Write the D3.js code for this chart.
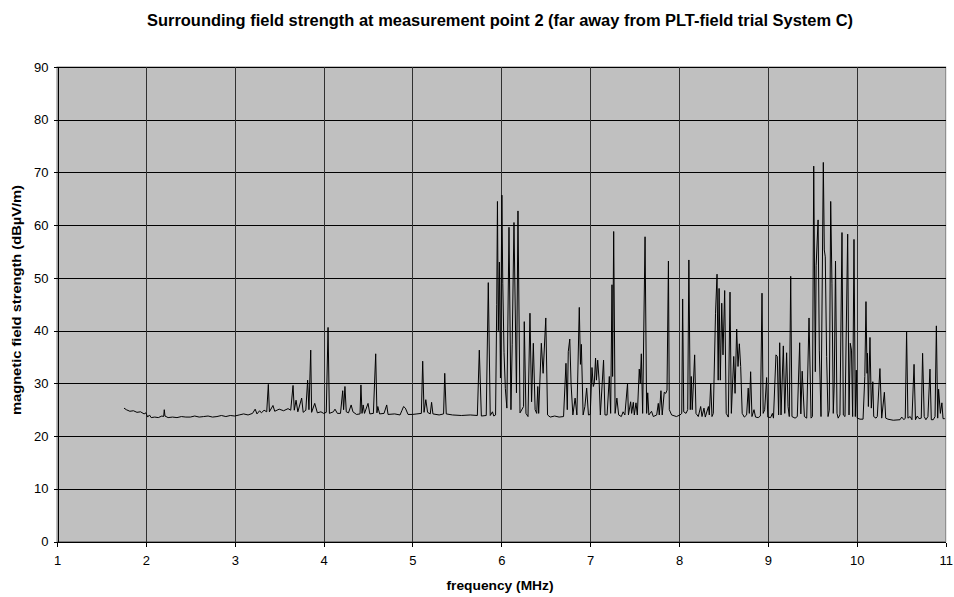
<!DOCTYPE html>
<html>
<head>
<meta charset="utf-8">
<script src="https://cdn.jsdelivr.net/npm/d3@7"></script>
<style>
  html, body { margin: 0; padding: 0; background: #fff; }
  svg { display: block; font-family: "Liberation Sans", Arial, sans-serif; }
</style>
</head>
<body>
<svg id="chart" width="954" height="597"></svg>
<script>
// Measured spectrum: frequency (MHz) and magnetic field strength (dBµV/m)
const freqMHz = [
  1.754, 1.78, 1.82, 1.86, 1.9, 1.94, 1.98, 2.0, 2.02, 2.04, 2.06, 2.1, 2.14, 2.18, 2.2, 2.207, 2.215, 2.25, 2.3, 2.35,
  2.4, 2.45, 2.5, 2.55, 2.6, 2.65, 2.7, 2.75, 2.8, 2.85, 2.9, 2.95, 3.0, 3.05, 3.1, 3.15, 3.2, 3.23, 3.25, 3.28,
  3.3, 3.33, 3.36, 3.378, 3.39, 3.43, 3.45, 3.5, 3.55, 3.6, 3.63, 3.656, 3.67, 3.69, 3.71, 3.753, 3.77, 3.8, 3.82, 3.835,
  3.855, 3.865, 3.9, 3.93, 3.97, 4.0, 4.03, 4.05, 4.065, 4.11, 4.128, 4.155, 4.19, 4.215, 4.225, 4.24, 4.255, 4.28, 4.31, 4.33,
  4.37, 4.41, 4.42, 4.432, 4.445, 4.46, 4.5, 4.52, 4.56, 4.586, 4.6, 4.61, 4.63, 4.68, 4.71, 4.725, 4.8, 4.86, 4.88, 4.9,
  4.92, 4.95, 5.0, 5.05, 5.1, 5.115, 5.13, 5.15, 5.17, 5.2, 5.215, 5.23, 5.3, 5.35, 5.363, 5.38, 5.45, 5.55, 5.65, 5.73,
  5.752, 5.775, 5.83, 5.853, 5.875, 5.9, 5.915, 5.935, 5.948, 5.956, 5.966, 5.978, 5.99, 6.006, 6.016, 6.03, 6.045, 6.062, 6.086, 6.108,
  6.122, 6.142, 6.17, 6.187, 6.21, 6.25, 6.258, 6.277, 6.3, 6.322, 6.34, 6.36, 6.38, 6.398, 6.41, 6.42, 6.45, 6.47, 6.5, 6.52,
  6.55, 6.6, 6.65, 6.7, 6.727, 6.742, 6.753, 6.77, 6.785, 6.805, 6.83, 6.85, 6.877, 6.89, 6.9, 6.92, 6.94, 6.96, 6.98, 7.0,
  7.02, 7.035, 7.046, 7.06, 7.07, 7.084, 7.1, 7.114, 7.15, 7.166, 7.19, 7.215, 7.23, 7.245, 7.252, 7.264, 7.28, 7.3, 7.32, 7.35,
  7.37, 7.39, 7.42, 7.43, 7.455, 7.466, 7.485, 7.496, 7.515, 7.53, 7.552, 7.563, 7.575, 7.59, 7.617, 7.635, 7.647, 7.66, 7.69, 7.71,
  7.748, 7.766, 7.777, 7.796, 7.81, 7.833, 7.85, 7.864, 7.88, 7.89, 7.916, 7.97, 8.01, 8.03, 8.04, 8.052, 8.078, 8.097, 8.11, 8.126,
  8.137, 8.148, 8.175, 8.19, 8.216, 8.243, 8.258, 8.28, 8.295, 8.33, 8.34, 8.356, 8.37, 8.385, 8.41, 8.427, 8.44, 8.45, 8.464, 8.48,
  8.494, 8.513, 8.53, 8.554, 8.573, 8.588, 8.615, 8.63, 8.648, 8.663, 8.678, 8.693, 8.71, 8.734, 8.76, 8.778, 8.79, 8.805, 8.82, 8.843,
  8.86, 8.89, 8.915, 8.933, 8.946, 8.963, 8.985, 8.998, 9.03, 9.05, 9.062, 9.09, 9.105, 9.12, 9.132, 9.147, 9.173, 9.189, 9.21, 9.226,
  9.24, 9.256, 9.27, 9.305, 9.33, 9.357, 9.37, 9.385, 9.41, 9.436, 9.462, 9.485, 9.5, 9.515, 9.533, 9.542, 9.564, 9.578, 9.597, 9.623,
  9.634, 9.645, 9.66, 9.676, 9.69, 9.706, 9.72, 9.735, 9.746, 9.76, 9.777, 9.79, 9.81, 9.833, 9.848, 9.867, 9.897, 9.912, 9.926, 9.94,
  9.953, 9.968, 9.983, 9.994, 10.005, 10.036, 10.07, 10.09, 10.103, 10.115, 10.12, 10.13, 10.148, 10.163, 10.18, 10.19, 10.216, 10.23, 10.26, 10.28,
  10.31, 10.325, 10.35, 10.41, 10.486, 10.505, 10.53, 10.545, 10.56, 10.575, 10.6, 10.62, 10.644, 10.66, 10.68, 10.7, 10.725, 10.74, 10.758, 10.777,
  10.8, 10.823, 10.838, 10.86, 10.88, 10.895, 10.91, 10.92, 10.94, 10.957, 10.97, 10.99
];
const fieldDb = [
  25.3, 25.0, 24.7, 24.8, 24.5, 24.6, 24.2, 24.4, 23.6, 24.0, 23.5, 23.6, 23.5, 23.8, 23.7, 25.0, 23.8, 23.5, 23.6, 23.5,
  23.7, 23.6, 23.6, 23.8, 23.6, 23.7, 23.8, 23.6, 23.7, 23.9, 23.7, 23.9, 23.8, 24.0, 24.2, 24.0, 24.3, 25.1, 24.2, 24.8,
  24.4, 24.9, 24.6, 29.8, 24.6, 25.8, 24.7, 25.1, 24.8, 25.2, 24.9, 29.6, 24.9, 26.8, 24.6, 27.2, 24.5, 24.9, 30.6, 25.0,
  36.3, 24.5, 26.2, 24.4, 24.6, 24.3, 24.5, 40.6, 24.3, 24.6, 25.1, 24.3, 24.3, 28.6, 25.0, 29.4, 24.6, 24.4, 25.9, 24.6,
  24.1, 24.2, 29.7, 24.3, 25.9, 24.3, 26.2, 24.2, 24.3, 35.6, 24.4, 25.6, 24.2, 24.3, 25.9, 24.1, 24.2, 24.0, 24.8, 25.6,
  25.3, 24.1, 24.1, 24.2, 24.3, 34.2, 24.5, 26.9, 24.5, 24.2, 26.4, 24.2, 24.0, 24.2, 31.9, 24.2, 24.0, 23.9, 24.0, 23.9,
  36.3, 23.8, 23.9, 49.1, 23.9, 24.6, 23.8, 24.0, 45.0, 64.5, 40.0, 53.0, 31.0, 65.7, 49.0, 35.8, 29.0, 25.3, 59.6, 25.0,
  37.3, 60.5, 28.2, 62.7, 24.4, 25.6, 41.7, 24.3, 23.7, 43.3, 26.5, 37.6, 25.0, 24.3, 29.4, 24.3, 37.6, 31.9, 42.4, 24.0,
  23.6, 23.8, 23.6, 23.7, 33.8, 25.0, 36.0, 38.4, 29.7, 24.0, 27.2, 24.0, 44.4, 33.6, 37.4, 24.0, 25.6, 29.1, 24.0, 24.1,
  33.0, 29.4, 30.0, 34.8, 30.6, 34.4, 30.6, 24.0, 34.4, 24.0, 24.0, 31.3, 24.3, 48.7, 31.3, 58.8, 24.3, 27.2, 24.0, 23.7,
  24.6, 24.0, 30.0, 24.0, 26.5, 24.3, 26.4, 24.0, 26.3, 24.0, 32.7, 30.0, 35.6, 24.3, 57.8, 24.3, 28.2, 24.0, 24.7, 23.7,
  24.0, 26.2, 24.0, 28.6, 24.0, 28.3, 28.1, 28.7, 53.2, 25.0, 24.0, 23.7, 24.0, 24.3, 46.0, 24.6, 24.3, 25.0, 53.4, 25.0,
  31.3, 25.0, 35.4, 24.3, 23.7, 25.6, 23.7, 25.3, 23.6, 25.6, 24.0, 29.9, 23.7, 24.3, 43.3, 50.7, 30.6, 48.0, 30.6, 45.2,
  35.4, 47.6, 24.3, 23.6, 47.3, 24.3, 35.1, 28.1, 40.3, 33.2, 37.5, 33.2, 24.3, 23.6, 24.0, 29.1, 24.3, 32.2, 23.7, 25.0,
  23.6, 23.5, 23.8, 47.1, 24.3, 25.0, 31.1, 23.6, 23.5, 24.3, 23.4, 35.4, 35.1, 24.0, 37.7, 24.0, 37.1, 24.3, 35.8, 25.6,
  23.7, 50.3, 23.7, 23.4, 23.7, 37.7, 24.2, 32.3, 23.7, 23.4, 42.4, 23.4, 23.7, 71.2, 32.2, 52.3, 61.0, 36.3, 23.7, 71.9,
  55.3, 54.0, 35.1, 23.7, 24.9, 64.5, 49.0, 24.3, 30.0, 53.2, 24.3, 23.4, 24.0, 58.6, 24.0, 23.7, 58.3, 24.0, 37.6, 36.3,
  23.7, 57.3, 23.7, 32.5, 23.4, 23.2, 23.2, 31.3, 45.5, 31.9, 35.7, 25.6, 38.7, 25.3, 30.3, 23.7, 23.4, 23.7, 32.8, 23.4,
  28.3, 23.4, 23.2, 23.0, 23.1, 23.6, 23.1, 23.4, 39.8, 23.4, 23.7, 23.1, 33.6, 23.1, 23.8, 23.3, 23.4, 35.7, 23.7, 23.1,
  23.7, 32.7, 23.1, 23.1, 23.7, 40.9, 23.4, 28.9, 24.3, 26.3, 23.3, 23.3
];

// Axis ticks
const freqTicks = [1, 2, 3, 4, 5, 6, 7, 8, 9, 10, 11];
const levelTicks = [0, 10, 20, 30, 40, 50, 60, 70, 80, 90];

const chartTitle = "Surrounding field strength at measurement point 2 (far away from PLT-field trial System C)";
const xTitle = "frequency (MHz)";
const yTitle = "magnetic field strength  (dBµV/m)";

const svg = d3.select("#chart");
const plot = { left: 57, right: 945.7, top: 67, bottom: 541.5 };

const x = d3.scaleLinear().domain([1, 11]).range([plot.left, plot.right]);
const y = d3.scaleLinear().domain([0, 90]).range([plot.bottom, plot.top]);

// Plot area
svg.append("rect")
  .attr("x", plot.left).attr("y", plot.top)
  .attr("width", plot.right - plot.left).attr("height", plot.bottom - plot.top)
  .attr("fill", "#c0c0c0")
  .attr("stroke", "#808080").attr("stroke-width", 1);

// Gridlines
const grid = svg.append("g").attr("shape-rendering", "crispEdges");
grid.selectAll("line.h").data(levelTicks.filter(d => d > 0)).join("line")
  .attr("class", "h")
  .attr("x1", plot.left).attr("x2", plot.right)
  .attr("y1", d => Math.round(y(d)) + 0.5).attr("y2", d => Math.round(y(d)) + 0.5)
  .attr("stroke", "#000");
grid.selectAll("line.v").data(freqTicks.filter(d => d > 1 && d < 11)).join("line")
  .attr("class", "v")
  .attr("y1", plot.top).attr("y2", plot.bottom)
  .attr("x1", d => Math.round(x(d)) + 0.5).attr("x2", d => Math.round(x(d)) + 0.5)
  .attr("stroke", "#303030");

// Spectrum trace
const line = d3.line()
  .x((d, i) => x(freqMHz[i]))
  .y(d => y(d));
svg.append("path")
  .datum(fieldDb)
  .attr("d", line)
  .attr("fill", "none")
  .attr("stroke", "#000")
  .attr("stroke-width", 1)
  .attr("stroke-linejoin", "miter");

// Axes
const xAxis = d3.axisBottom(x).tickValues(freqTicks).tickFormat(d3.format("d"))
  .tickSizeInner(4).tickSizeOuter(0).tickPadding(9);
const yAxis = d3.axisLeft(y).tickValues(levelTicks).tickFormat(d3.format("d"))
  .tickSizeInner(4).tickSizeOuter(0).tickPadding(5);

const gx = svg.append("g").attr("transform", `translate(0,${Math.round(plot.bottom) + 0.5})`).call(xAxis);
const gy = svg.append("g").attr("transform", `translate(${Math.round(plot.left) + 0.5},0)`).call(yAxis);
[gx, gy].forEach(g => {
  g.selectAll(".domain").attr("stroke", "#000").attr("shape-rendering", "crispEdges");
  g.selectAll(".tick line").attr("stroke", "#000").attr("shape-rendering", "crispEdges");
  g.selectAll(".tick text").attr("fill", "#000")
    .style("font-family", "'Liberation Sans', Arial, sans-serif").style("font-size", "13px");
});
gx.selectAll(".domain").attr("d", `M${plot.left},0H${plot.right}`);

// Titles
svg.append("text")
  .attr("x", 500).attr("y", 26)
  .attr("text-anchor", "middle")
  .attr("textLength", 706).attr("lengthAdjust", "spacingAndGlyphs")
  .style("font-size", "16px").style("font-weight", "bold")
  .text(chartTitle);

svg.append("text")
  .attr("x", 500).attr("y", 590)
  .attr("text-anchor", "middle")
  .attr("textLength", 107).attr("lengthAdjust", "spacingAndGlyphs")
  .style("font-size", "13px").style("font-weight", "bold")
  .text(xTitle);

svg.append("text")
  .attr("transform", "translate(21,300) rotate(-90)")
  .attr("text-anchor", "middle")
  .attr("textLength", 230).attr("lengthAdjust", "spacingAndGlyphs")
  .style("font-size", "13px").style("font-weight", "bold")
  .text(yTitle);
</script>
</body>
</html>
